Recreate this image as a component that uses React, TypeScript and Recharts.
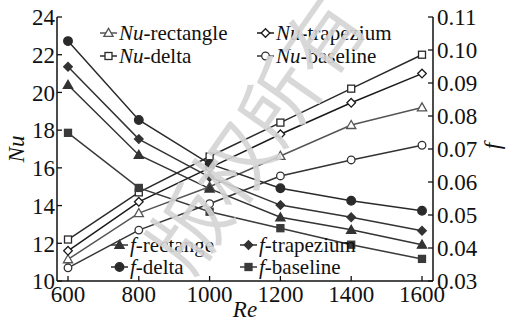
import React from "react";
import { LineChart, Line, XAxis, YAxis } from "recharts";

// Reynolds numbers on the x axis
const reValues = [600, 800, 1000, 1200, 1400, 1600];

// Nusselt number (left axis)
const nuRectangle = [11.15, 13.6, 15.0, 16.63, 18.27, 19.2];
const nuTrapezium = [11.6, 14.2, 16.0, 17.78, 19.45, 21.0];
const nuDelta = [12.2, 14.7, 16.6, 18.4, 20.2, 22.0];
const nuBaseline = [10.7, 12.7, 14.1, 15.57, 16.42, 17.2];

// Friction factor (right axis)
const fRectangle = [0.0894, 0.0682, 0.058, 0.0493, 0.0455, 0.041];
const fTrapezium = [0.0949, 0.073, 0.0615, 0.053, 0.0493, 0.0452];
const fDelta = [0.1027, 0.0788, 0.0655, 0.0581, 0.0543, 0.0513];
const fBaseline = [0.0749, 0.0582, 0.051, 0.046, 0.041, 0.0367];

const nuTicks = [10, 12, 14, 16, 18, 20, 22, 24];
const fTicks = [0.03, 0.04, 0.05, 0.06, 0.07, 0.08, 0.09, 0.1, 0.11];

const data = reValues.map((re, i) => ({
  re,
  nuRectangle: nuRectangle[i],
  nuTrapezium: nuTrapezium[i],
  nuDelta: nuDelta[i],
  nuBaseline: nuBaseline[i],
  fRectangle: fRectangle[i],
  fTrapezium: fTrapezium[i],
  fDelta: fDelta[i],
  fBaseline: fBaseline[i],
}));

type Shape = "triangle" | "diamond" | "square" | "circle";

interface SeriesDef {
  key: string;
  axis: "nu" | "f";
  prefix: string;
  suffix: string;
  shape: Shape;
  filled: boolean;
  color: string;
}

const series: SeriesDef[] = [
  { key: "nuRectangle", axis: "nu", prefix: "Nu", suffix: "-rectangle", shape: "triangle", filled: false, color: "#555" },
  { key: "nuTrapezium", axis: "nu", prefix: "Nu", suffix: "-trapezium", shape: "diamond", filled: false, color: "#1a1a1a" },
  { key: "nuDelta", axis: "nu", prefix: "Nu", suffix: "-delta", shape: "square", filled: false, color: "#2a2a2a" },
  { key: "nuBaseline", axis: "nu", prefix: "Nu", suffix: "-baseline", shape: "circle", filled: false, color: "#333" },
  { key: "fRectangle", axis: "f", prefix: "f", suffix: "-rectange", shape: "triangle", filled: true, color: "#333" },
  { key: "fTrapezium", axis: "f", prefix: "f", suffix: "-trapezium", shape: "diamond", filled: true, color: "#333" },
  { key: "fDelta", axis: "f", prefix: "f", suffix: "-delta", shape: "circle", filled: true, color: "#2a2a2a" },
  { key: "fBaseline", axis: "f", prefix: "f", suffix: "-baseline", shape: "square", filled: true, color: "#3a3a3a" },
];

const FONT = "Times New Roman";
const AXIS = "#111";

// serif face for every label in the figure; the watermark keeps its own CJK face
const fontCss = `
.fig text, .fig tspan { font-family: "Times New Roman", "Liberation Serif", serif !important; }
.fig text.wm { font-family: "Noto Sans CJK SC", sans-serif !important; }
`;

function Marker({ cx, cy, shape, filled, color }: { cx: number; cy: number; shape: Shape; filled: boolean; color: string }) {
  const fill = filled ? color : "#fff";
  const sw = 1.3;
  if (shape === "triangle") {
    const s = 4.6;
    return <polygon points={`${cx},${cy - s} ${cx + s},${cy + s * 0.75} ${cx - s},${cy + s * 0.75}`} fill={fill} stroke={color} strokeWidth={sw} />;
  }
  if (shape === "diamond") {
    const s = 4.3;
    return <polygon points={`${cx},${cy - s} ${cx + s},${cy} ${cx},${cy + s} ${cx - s},${cy}`} fill={fill} stroke={color} strokeWidth={sw} />;
  }
  if (shape === "square") {
    const s = 3.5;
    return <rect x={cx - s} y={cy - s} width={s * 2} height={s * 2} fill={fill} stroke={color} strokeWidth={sw} />;
  }
  return <circle cx={cx} cy={cy} r={filled ? 4.3 : 3.8} fill={fill} stroke={color} strokeWidth={sw} />;
}

const makeDot = (s: SeriesDef) => (props: any) => {
  const { cx, cy, index } = props;
  if (cx == null || cy == null) return <g key={`${s.key}-${index}`} />;
  return (
    <g key={`${s.key}-${index}`}>
      <Marker cx={cx} cy={cy} shape={s.shape} filled={s.filled} color={s.color} />
    </g>
  );
};

const LeftTick = (props: any) => {
  const { x, y, payload } = props;
  return (
    <g>
      <line x1={x + 2} x2={x + 7} y1={y} y2={y} stroke={AXIS} strokeWidth={1.3} />
      <text x={x} y={y} dy="0.36em" textAnchor="end" fontFamily={FONT} fontSize={23} fill="#111">
        {payload.value}
      </text>
    </g>
  );
};

const RightTick = (props: any) => {
  const { x, y, payload } = props;
  return (
    <g>
      <line x1={x - 4} x2={x - 9} y1={y} y2={y} stroke={AXIS} strokeWidth={1.3} />
      <text x={x} y={y} dy="0.36em" textAnchor="start" fontFamily={FONT} fontSize={23} fill="#111">
        {Number(payload.value).toFixed(2)}
      </text>
    </g>
  );
};

const BottomTick = (props: any) => {
  const { x, y, payload } = props;
  return (
    <g>
      <line x1={x} x2={x} y1={y - 4} y2={y - 9} stroke={AXIS} strokeWidth={1.3} />
      <text x={x} y={y} dy="0.72em" textAnchor="middle" fontFamily={FONT} fontSize={23} fill="#111">
        {payload.value}
      </text>
    </g>
  );
};

function LegendItem({ s, x, y }: { s: SeriesDef; x: number; y: number }) {
  return (
    <g>
      <line x1={x} x2={x + 17} y1={y} y2={y} stroke={s.color} strokeWidth={1.5} />
      <Marker cx={x + 8.5} cy={y} shape={s.shape} filled={s.filled} color={s.color} />
      <text x={x + 19} y={y} dy="0.33em" fontFamily={FONT} fontSize={21} fill="#111">
        <tspan fontStyle="italic">{s.prefix}</tspan>
        {s.suffix}
      </text>
    </g>
  );
}

export default function App() {
  const nuSeries = series.filter((s) => s.axis === "nu");
  const fSeries = series.filter((s) => s.axis === "f");
  return (
    <div className="fig" style={{ position: "absolute", left: 0, top: 0, width: 506, height: 326, background: "#fff", fontFamily: FONT }}>
      <style>{fontCss}</style>
      <LineChart width={506} height={326} data={data} margin={{ top: 17, right: 13, bottom: 0, left: 7 }}>
        <XAxis
          xAxisId="top"
          orientation="top"
          dataKey="re"
          type="number"
          domain={[600, 1600]}
          height={0}
          tick={false}
          tickLine={false}
          axisLine={{ stroke: AXIS, strokeWidth: 1.5 }}
        />
        <XAxis
          dataKey="re"
          type="number"
          domain={[600, 1600]}
          ticks={reValues}
          padding={{ left: 11, right: 11 }}
          height={45}
          tickSize={0}
          tickMargin={4}
          tickLine={false}
          tick={<BottomTick />}
          axisLine={{ stroke: AXIS, strokeWidth: 1.5 }}
          interval={0}
        />
        <YAxis
          yAxisId="nu"
          domain={[10, 24]}
          ticks={nuTicks}
          width={50}
          tickSize={0}
          tickMargin={2}
          tickLine={false}
          tick={<LeftTick />}
          axisLine={{ stroke: AXIS, strokeWidth: 1.5 }}
          interval={0}
        />
        <YAxis
          yAxisId="f"
          orientation="right"
          domain={[0.03, 0.11]}
          ticks={fTicks}
          width={60}
          tickSize={0}
          tickMargin={4}
          tickLine={false}
          tick={<RightTick />}
          axisLine={{ stroke: AXIS, strokeWidth: 1.5 }}
          interval={0}
        />
        {series.map((s) => (
          <Line
            key={s.key}
            xAxisId={0}
            yAxisId={s.axis}
            dataKey={s.key}
            stroke={s.color}
            strokeWidth={1.5}
            dot={makeDot(s)}
            activeDot={false}
            isAnimationActive={false}
          />
        ))}
      </LineChart>
      <svg width={506} height={326} style={{ position: "absolute", left: 0, top: 0, pointerEvents: "none" }}>
        {/* legend for Nu series */}
        <LegendItem s={nuSeries[0]} x={100} y={33} />
        <LegendItem s={nuSeries[1]} x={257} y={33} />
        <LegendItem s={nuSeries[2]} x={100} y={56} />
        <LegendItem s={nuSeries[3]} x={257} y={56} />
        {/* legend for f series */}
        <LegendItem s={fSeries[0]} x={111} y={245} />
        <LegendItem s={fSeries[1]} x={240} y={245} />
        <LegendItem s={fSeries[2]} x={111} y={267} />
        <LegendItem s={fSeries[3]} x={240} y={267} />
        {/* axis titles */}
        <text x={245} y={317} textAnchor="middle" fontFamily={FONT} fontStyle="italic" fontSize={23} fill="#111">Re</text>
        <text transform="translate(24,149) rotate(-90)" textAnchor="middle" fontFamily={FONT} fontStyle="italic" fontSize={23} fill="#111">Nu</text>
        <text transform="translate(500,146) rotate(-90)" textAnchor="middle" fontFamily={FONT} fontStyle="italic" fontSize={23} fill="#111">f</text>
        {/* watermark */}
        <text
          className="wm"
          transform="translate(258,134) rotate(-55)"
          textAnchor="middle"
          dy="0.35em"
          fontFamily="Noto Sans CJK SC"
          fontSize={78}
          fill="#d4d4d4"
          fillOpacity={0.9}
        >
          版权所有
        </text>
      </svg>
    </div>
  );
}
